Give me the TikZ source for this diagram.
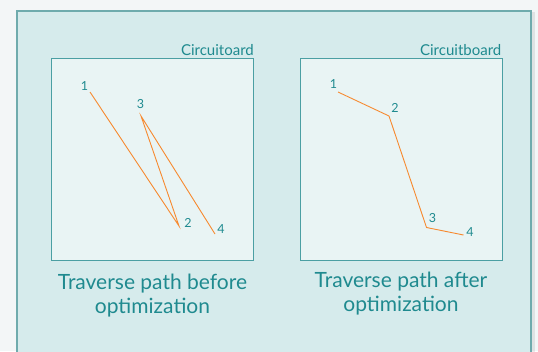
\documentclass[tikz,border=0pt]{standalone}
\usepackage{fontspec}
\setmainfont{Lato}
\usetikzlibrary{positioning}

\definecolor{pagegray}{HTML}{F3F6F7}
\definecolor{panelfill}{HTML}{D6EBEC}
\definecolor{panelline}{HTML}{6FABAD}
\definecolor{boardfill}{HTML}{E9F4F4}
\definecolor{boardline}{HTML}{4B9FA3}
\definecolor{tealtext}{HTML}{1F8A8F}
\definecolor{pathorange}{HTML}{F7892F}

\begin{document}
\begin{tikzpicture}[x=1pt, y=-1pt,
  board/.style={draw=boardline, fill=boardfill, line width=1pt, anchor=north west},
  boardname/.style={text=tealtext, font=\fontsize{15}{16}\selectfont, anchor=south east, inner sep=0pt},
  pin/.style={text=tealtext, font=\fontsize{12.5}{14}\selectfont, inner sep=0pt},
  route/.style={draw=pathorange, line width=0.9pt},
  caption/.style={text=tealtext, font=\fontsize{21}{24}\selectfont, align=center, anchor=north}]

% Page and panel
\fill[pagegray] (0,0) rectangle (538,351);
\useasboundingbox (0,0) rectangle (538,351);
\clip (0,0) rectangle (538,351);
\fill[black, opacity=0.08] (18,12) rectangle (535,365);
\draw[panelline, fill=panelfill, line width=2.5pt] (17,11) rectangle (531,365);

% Boards
\node[board, minimum width=202, minimum height=202] (before) at (51,58) {};
\node[board, minimum width=202, minimum height=202] (after) at (299.5,58) {};
\node[boardname] (beforename) at ([yshift=2pt]before.north east) {Circuitoard};
\node[boardname] (aftername) at ([xshift=-1pt, yshift=2pt]after.north east) {Circuitboard};

% Path before optimization
\coordinate (a1) at (90,92);
\coordinate (a2) at (179,226);
\coordinate (a3) at (141,116);
\coordinate (a4) at (215,234);
\node[pin] (a1label) at (84.5,86) {1};
\node[pin] (a2label) at (188,222.5) {2};
\node[pin] (a3label) at (140.5,104) {3};
\node[pin] (a4label) at (221,229.5) {4};
\draw[route] (a1) -- (a2) -- (a3) -- (a4);

% Path after optimization
\coordinate (b1) at (338,92);
\coordinate (b2) at (389,116);
\coordinate (b3) at (426.5,227.5);
\coordinate (b4) at (463.5,235);
\node[pin] (b1label) at (333.5,84.5) {1};
\node[pin] (b2label) at (395,107.5) {2};
\node[pin] (b3label) at (432.5,218.5) {3};
\node[pin] (b4label) at (470,232.5) {4};
\draw[route] (b1) -- (b2) -- (b3) -- (b4);

% Captions
\node[caption] (beforetext) at ([yshift=-9pt]before.south) {Traverse path before\\optimization};
\node[caption] (aftertext) at ([yshift=-7pt]after.south) {Traverse path after\\optimization};
\end{tikzpicture}
\end{document}
